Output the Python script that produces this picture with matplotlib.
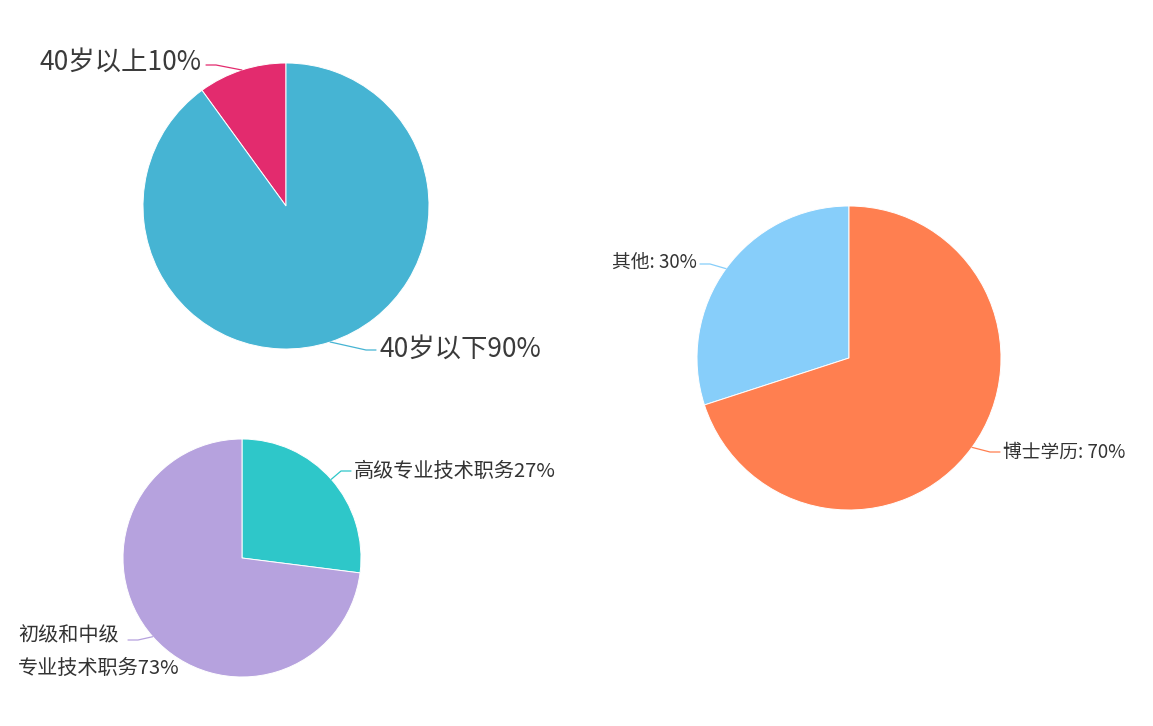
import matplotlib.pyplot as plt
import numpy as np

plt.rcParams['font.family'] = ['Noto Sans CJK SC', 'DejaVu Sans']

W, H = 1153, 726

# age structure
age_labels = ['40岁以上10%', '40岁以下90%']
age_values = [10, 90]
age_colors = ['#e32b6e', '#46b4d3']

# professional titles
title_labels = ['高级专业技术职务27%', '初级和中级\n专业技术职务73%']
title_values = [27, 73]
title_colors = ['#2ec7c9', '#b6a2de']

# degree
degree_labels = ['其他: 30%', '博士学历: 70%']
degree_values = [30, 70]
degree_colors = ['#87cefa', '#ff7f50']


def draw_pie(ax, values, colors, labels, center, radius, counterclock,
             text_pos, line_end, fontsize, weight='normal', textcolor='#333333'):
    cx, cy = center[0], H - center[1]
    wedges, _ = ax.pie(values, colors=colors, startangle=90,
                       counterclock=counterclock, center=(cx, cy), radius=radius,
                       wedgeprops=dict(edgecolor='white', linewidth=0.7))
    for w, lab, (tx, ty, ha), (ex, ey) in zip(wedges, labels, text_pos, line_end):
        mid = np.deg2rad((w.theta1 + w.theta2) / 2)
        x0 = cx + radius * np.cos(mid)
        y0 = cy + radius * np.sin(mid)
        ey = H - ey
        step = 10 if ex > x0 else -10
        ax.plot([x0, ex - step, ex], [y0, ey, ey], color=w.get_facecolor(),
                lw=0.9, solid_capstyle='round')
        ax.text(tx, H - ty, lab, ha=ha, va='center', fontsize=fontsize,
                fontweight=weight, color=textcolor, linespacing=1.75)


fig = plt.figure(figsize=(W / 100, H / 100), dpi=100)
ax = fig.add_axes([0, 0, 1, 1])

draw_pie(ax, age_values, age_colors, age_labels, (286, 206), 143, True,
         [(40, 62, 'left'), (380, 349, 'left')],
         [(206, 65), (376, 350)], 19, weight='light', textcolor='#3a3a3a')

draw_pie(ax, title_values, title_colors, title_labels, (242, 558), 119, False,
         [(354, 471, 'left'), (18, 652, 'left')],
         [(351, 471), (128, 640)], 14.5)

draw_pie(ax, degree_values, degree_colors, degree_labels, (849, 358), 152, True,
         [(697, 262, 'right'), (1003, 452, 'left')],
         [(700, 264), (1000, 452)], 13.5)

ax.set_xlim(0, W)
ax.set_ylim(0, H)
ax.set_aspect('equal')
ax.axis('off')

fig.savefig('out.png', dpi=100, facecolor='white')
